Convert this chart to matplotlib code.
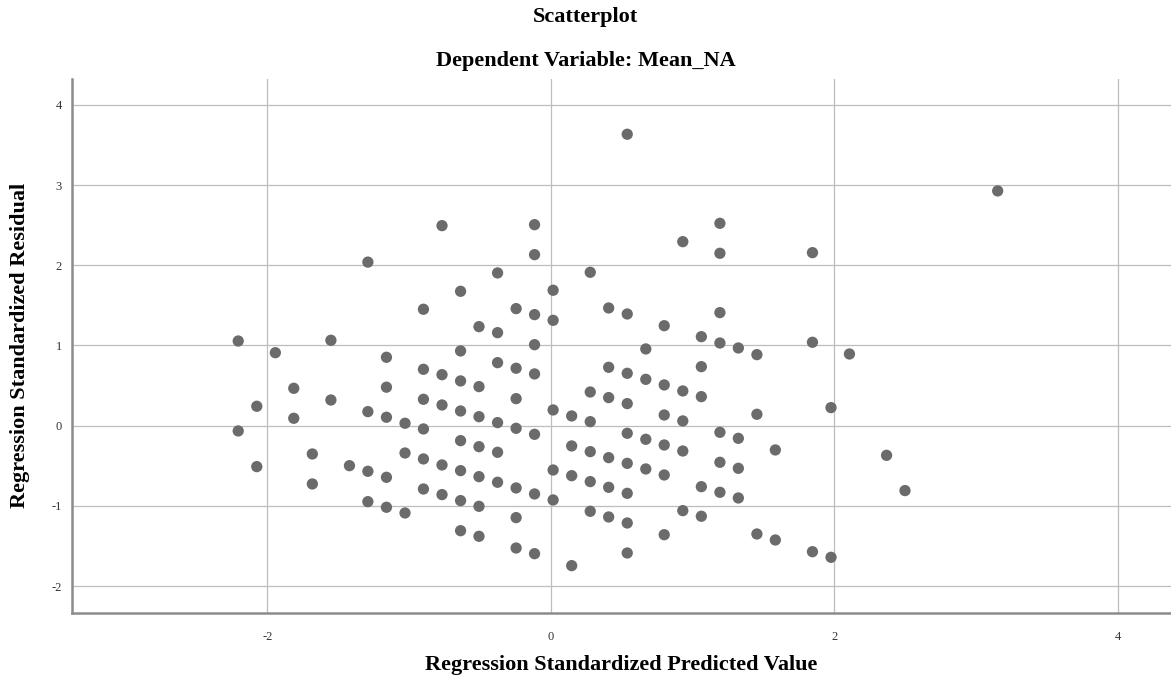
import matplotlib
matplotlib.use("Agg")
import matplotlib.pyplot as plt

# Regression standardized predicted values (x) and standardized residuals (y)
pred = [
    -2.206, -2.206,
    -2.075, -2.075,
    -1.944,
    -1.814, -1.814,
    -1.683, -1.683,
    -1.552, -1.552,
    -1.421,
    -1.291, -1.291, -1.291, -1.291,
    -1.160, -1.160, -1.160, -1.160, -1.160,
    -1.029, -1.029, -1.029,
    -0.899, -0.899, -0.899, -0.899, -0.899, -0.899,
    -0.768, -0.768, -0.768, -0.768, -0.768,
    -0.637, -0.637, -0.637, -0.637, -0.637, -0.637, -0.637, -0.637,
    -0.507, -0.507, -0.507, -0.507, -0.507, -0.507, -0.507,
    -0.376, -0.376, -0.376, -0.376, -0.376, -0.376,
    -0.245, -0.245, -0.245, -0.245, -0.245, -0.245, -0.245,
    -0.115, -0.115, -0.115, -0.115, -0.115, -0.115, -0.115, -0.115,
    0.016, 0.016, 0.016, 0.016, 0.016,
    0.147, 0.147, 0.147, 0.147,
    0.278, 0.278, 0.278, 0.278, 0.278, 0.278,
    0.408, 0.408, 0.408, 0.408, 0.408, 0.408,
    0.539, 0.539, 0.539, 0.539, 0.539, 0.539, 0.539, 0.539, 0.539,
    0.670, 0.670, 0.670, 0.670,
    0.800, 0.800, 0.800, 0.800, 0.800, 0.800,
    0.931, 0.931, 0.931, 0.931, 0.931,
    1.062, 1.062, 1.062, 1.062, 1.062,
    1.193, 1.193, 1.193, 1.193, 1.193, 1.193, 1.193,
    1.323, 1.323, 1.323, 1.323,
    1.454, 1.454, 1.454,
    1.584, 1.584,
    1.846, 1.846, 1.846,
    1.977, 1.977,
    2.107,
    2.369,
    2.499,
    3.153,
]
resid = [
    1.056, -0.066,
    0.242, -0.511,
    0.910,
    0.466, 0.092,
    -0.353, -0.727,
    1.065, 0.320,
    -0.499,
    2.040, 0.175, -0.569, -0.948,
    0.853, 0.480, 0.105, -0.644, -1.018,
    0.030, -0.341, -1.089,
    1.452, 0.703, 0.329, -0.041, -0.415, -0.790,
    2.495, 0.636, 0.258, -0.490, -0.860,
    1.676, 0.932, 0.558, 0.183, -0.187, -0.561, -0.935, -1.310,
    1.235, 0.487, 0.112, -0.262, -0.636, -1.006, -1.380,
    1.905, 1.160, 0.786, 0.038, -0.332, -0.706,
    1.460, 0.716, 0.337, -0.033, -0.777, -1.147, -1.526,
    2.507, 2.133, 1.385, 1.010, 0.645, -0.108, -0.852, -1.597,
    1.689, 1.314, 0.196, -0.553, -0.927,
    0.121, -0.253, -0.624, -1.746,
    1.913, 0.420, 0.050, -0.324, -0.698, -1.068,
    1.468, 0.728, 0.350, -0.399, -0.769, -1.139,
    3.635, 1.393, 0.653, 0.275, -0.095, -0.470, -0.844, -1.214, -1.588,
    0.957, 0.578, -0.170, -0.540,
    1.247, 0.508, 0.133, -0.241, -0.615, -1.360,
    2.295, 0.433, 0.059, -0.316, -1.060,
    1.110, 0.736, 0.362, -0.761, -1.130,
    2.524, 2.150, 1.410, 1.031, -0.083, -0.457, -0.831,
    0.969, -0.158, -0.532, -0.902,
    0.886, 0.142, -1.351,
    -0.303, -1.426,
    2.158, 1.040, -1.572,
    0.225, -1.642,
    0.894,
    -0.370,
    -0.810,
    2.928,
]

x_ticks = [-2, 0, 2, 4]
y_ticks = [-2, -1, 0, 1, 2, 3, 4]
title_main = "Scatterplot"
title_sub = "Dependent Variable: Mean_NA"
x_label = "Regression Standardized Predicted Value"
y_label = "Regression Standardized Residual"

W, H = 1171, 684
fig = plt.figure(figsize=(W / 100, H / 100), dpi=100)
serif = ["Liberation Serif", "DejaVu Serif"]

left, right, top, bottom = 71.7, 1171, 79, 612.7
ax = fig.add_axes([left / W, 1 - bottom / H, (right - left) / W, (bottom - top) / H])

ax.scatter(pred, resid, s=66, color="#6b6b6b", edgecolors="none", zorder=3)

ax.set_xlim(-3.381, 4.376)
ax.set_ylim(-2.333, 4.324)
ax.set_xticks(x_ticks)
ax.set_yticks(y_ticks)
ax.set_xticklabels([str(t) for t in x_ticks])
ax.set_yticklabels([str(t) for t in y_ticks])
ax.grid(True, color="#bdbdbd", linewidth=0.9, zorder=0)
ax.set_axisbelow(True)
for s in ["top", "right"]:
    ax.spines[s].set_visible(False)
for s in ["left", "bottom"]:
    ax.spines[s].set_color("#8c8c8c")
    ax.spines[s].set_linewidth(1.8)
ax.tick_params(axis="both", length=0, labelsize=9, labelcolor="#333333")
ax.tick_params(axis="x", pad=13)
ax.tick_params(axis="y", pad=7)
for lab in ax.get_xticklabels() + ax.get_yticklabels():
    lab.set_fontfamily(serif)

fig.text(0.5, 1 - 17 / H, title_main, ha="center", va="center",
         fontsize=16, fontweight="bold", family=serif)
fig.text(0.5, 1 - 61 / H, title_sub, ha="center", va="center",
         fontsize=16, fontweight="bold", family=serif)
fig.text((left + right) / 2 / W, 1 - 665 / H, x_label, ha="center", va="center",
         fontsize=16, fontweight="bold", family=serif)
fig.text(20 / W, 1 - (top + bottom) / 2 / H, y_label, ha="center", va="center",
         rotation=90, fontsize=16, fontweight="bold", family=serif)

fig.savefig("out.png", dpi=100)
